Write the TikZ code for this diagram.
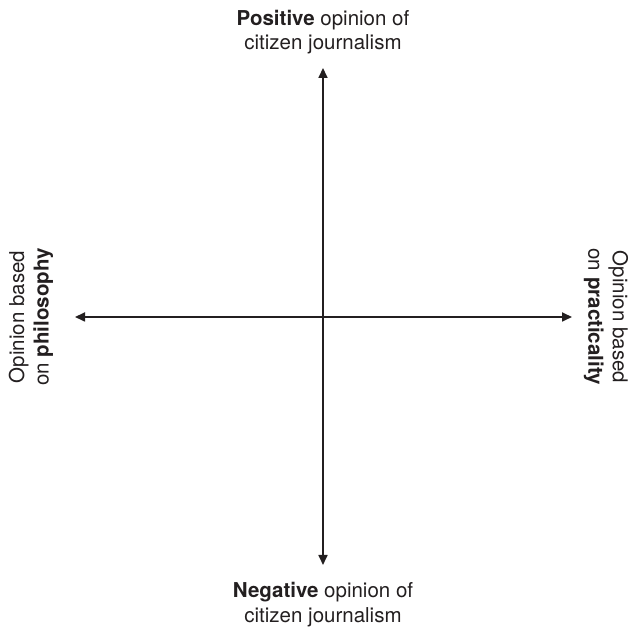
\documentclass[tikz,border=0pt]{standalone}
\usepackage{fontspec}
\setmainfont{TeX Gyre Heros}
\usetikzlibrary{arrows.meta}
\definecolor{ink}{HTML}{231F20}
\tikzset{
  axis/.style={draw=ink, line width=1.7pt, {Triangle[length=10pt,width=9pt]}-{Triangle[length=10pt,width=9pt]}},
  lbl/.style={text=ink, inner sep=0pt, align=center, font=\fontsize{20.5}{24.5}\selectfont}
}
\begin{document}
\begin{tikzpicture}[x=1pt,y=1pt]
\useasboundingbox (0,0) rectangle (633,629);
\coordinate (top) at (323,561);
\coordinate (bot) at (323,64);
\coordinate (lft) at (75,312);
\coordinate (rgt) at (572,312);
\draw[axis] (bot) -- (top);
\draw[axis] (lft) -- (rgt);
\node[lbl] (pos) at (323,597) {\textbf{Positive} opinion of\\citizen journalism};
\node[lbl] (neg) at (323,24.5) {\textbf{Negative} opinion of\\citizen journalism};
\node[lbl, rotate=90] (phil) at (31,312) {Opinion based\\on \textbf{philosophy}};
\node[lbl, rotate=-90] (prac) at (606,312) {Opinion based\\on \textbf{practicality}};
\end{tikzpicture}
\end{document}
